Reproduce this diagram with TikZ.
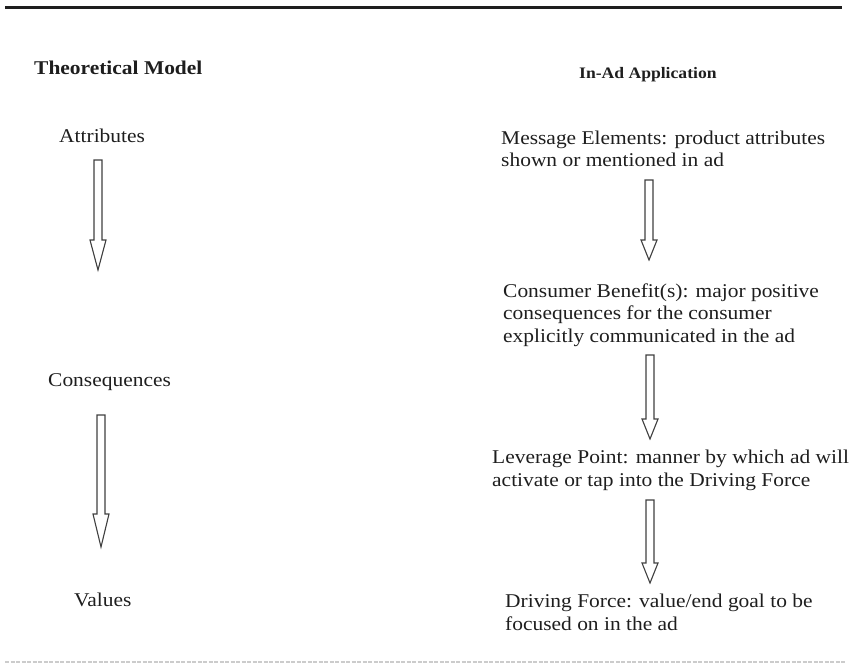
\documentclass[tikz,border=0pt]{standalone}
\usepackage{fontspec}
\setmainfont{Liberation Serif}[FakeStretch=1.1]
\usetikzlibrary{calc}
\definecolor{ink}{HTML}{1E1E1E}
\tikzset{
  bodytext/.style={anchor=base west, inner sep=0pt, align=left, text=ink,
    font=\fontsize{19.5}{22.5}\selectfont},
  headtext/.style={anchor=base west, inner sep=0pt, text=ink,
    font=\bfseries\fontsize{19.5}{22}\selectfont},
  subheadtext/.style={anchor=base west, inner sep=0pt, text=ink,
    font=\bfseries\fontsize{16}{18}\selectfont},
  hollow/.style={draw=ink!85, line width=1.1pt, fill=white, line join=miter},
  toprule/.style={draw=ink, line width=3pt},
  botrule/.style={draw=gray!40, line width=2pt, dash pattern=on 4pt off 1.5pt},
}
\newcommand\hollowarrow[3]{%
  \draw[hollow] let \p1=(#1), \p2=(#2) in
    (\x1-4pt,\y1) -- (\x1-4pt,\y2+#3) -- (\x1-8pt,\y2+#3) -- (\x1,\y2)
    -- (\x1+8pt,\y2+#3) -- (\x1+4pt,\y2+#3) -- (\x1+4pt,\y1) -- cycle;}
\begin{document}
\begin{tikzpicture}[x=1pt,y=-1pt]
  \useasboundingbox (0,0) rectangle (851,671);
  % rules
  \coordinate (tl) at (5,8);
  \coordinate (tr) at (842,8);
  \draw[toprule] (tl) -- (tr);
  \coordinate (bl) at (5,662);
  \coordinate (br) at (846,662);
  \draw[botrule] (bl) -- (br);
  % headings
  \node[headtext] (theo) at (34,75) {Theoretical Model};
  \node[subheadtext] (inad) at (579,79) {In-Ad Application};
  % left column
  \node[bodytext] (attr) at (59,143) {Attributes};
  \node[bodytext] (cons) at (48,386) {Consequences};
  \node[bodytext] (vals) at (74,606) {Values};
  % right column (base anchor = baseline of the last line)
  \node[bodytext] (msg) at (501,167) {Message Elements: product attributes\\shown or mentioned in ad};
  \node[bodytext] (ben) at (503,342) {Consumer Benefit(s): major positive\\consequences for the consumer\\explicitly communicated in the ad};
  \node[bodytext] (lev) at (492,486) {Leverage Point: manner by which ad will\\activate or tap into the Driving Force};
  \node[bodytext] (drv) at (505,630) {Driving Force: value/end goal to be\\focused on in the ad};
  % arrows
  \coordinate (l1s) at (98,160);  \coordinate (l1e) at (98,270);
  \coordinate (l2s) at (101,415); \coordinate (l2e) at (101,547);
  \coordinate (r1s) at (649,180); \coordinate (r1e) at (649,260);
  \coordinate (r2s) at (650,355); \coordinate (r2e) at (650,439);
  \coordinate (r3s) at (650,500); \coordinate (r3e) at (650,583);
  \hollowarrow{l1s}{l1e}{30pt}
  \hollowarrow{l2s}{l2e}{33pt}
  \hollowarrow{r1s}{r1e}{20pt}
  \hollowarrow{r2s}{r2e}{20pt}
  \hollowarrow{r3s}{r3e}{20pt}
\end{tikzpicture}
\end{document}
